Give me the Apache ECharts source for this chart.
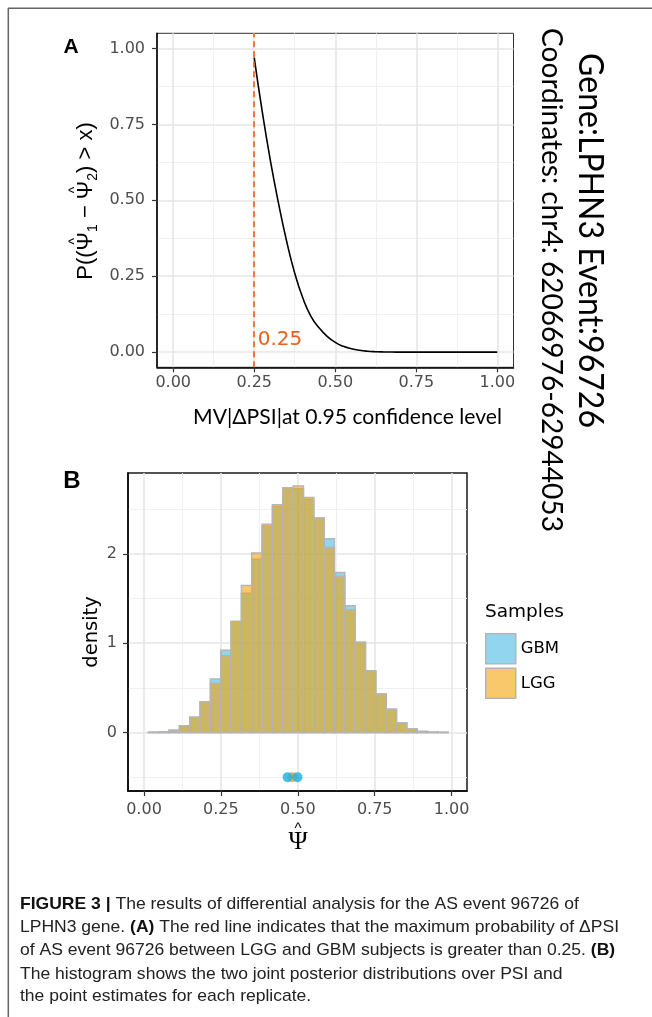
<!DOCTYPE html>
<html><head><meta charset="utf-8">
<script src="https://cdn.jsdelivr.net/npm/echarts@6/dist/echarts.min.js"></script>
<style>html,body{margin:0;padding:0;background:#fff;}#c{width:652px;height:1017px;}</style>
</head><body><div id="c"></div>
<script>
// ---------- Panel A data ----------
const mvX = [0.25,0.275,0.30,0.325,0.35,0.375,0.40,0.425,0.45,0.475,0.50,0.525,0.55,0.575,0.60,0.625,0.65,0.675,0.70,0.75,0.80,0.85,0.90,0.95,1.00];
const mvP = [0.97,0.79,0.63,0.49,0.365,0.26,0.178,0.118,0.080,0.052,0.032,0.019,0.011,0.006,0.003,0.0014,0.0006,0.0002,0.0001,0,0,0,0,0,0];
const threshold = 0.25;
const thresholdLabel = '0.25';
const probTicks = [0, 0.25, 0.5, 0.75, 1];
const probMinor = [0.125, 0.375, 0.625, 0.875];
// ---------- Panel B data ----------
const binStart = 0.0143;
const binWidth = 0.0336;
const gbmDensity = [0.003,0.008,0.025,0.075,0.17,0.34,0.60,0.92,1.24,1.56,1.94,2.31,2.53,2.74,2.73,2.61,2.40,2.17,1.79,1.42,1.01,0.69,0.43,0.26,0.105,0.04,0.012,0.004,0.002];
const lggDensity = [0.003,0.008,0.025,0.075,0.17,0.345,0.55,0.86,1.245,1.645,2.01,2.33,2.55,2.74,2.76,2.63,2.40,2.07,1.75,1.375,1.01,0.69,0.43,0.26,0.105,0.04,0.012,0.004,0.002];
const gbmPoints = [0.467, 0.499];
const lggPoints = [0.482];
const pointLevel = -0.5;
const psiTicks = [0, 0.25, 0.5, 0.75, 1];
const psiMinor = [0.125, 0.375, 0.625, 0.875];
const densityTicks = [0, 1, 2];
const densityMinor = [-0.5, 0.5, 1.5, 2.5];
const sampleNames = ['GBM', 'LGG'];
// ---------- texts ----------
const geneText = 'Gene:LPHN3 Event:96726';
const coordText = 'Coordinates: chr4: 62066976-62944053';
const xTitleA = 'MV|\u0394PSI|at 0.95 confidence level';
const yTitleParts = [['P((', 0, 0], ['\u03A8', 0, 1], ['1', 1, 0], [' \u2212 ', 0, 0], ['\u03A8', 0, 1], ['2', 1, 0], [') > x)', 0, 0]];
const captionLines = [
  [['FIGURE 3 |', 1], [' The results of differential analysis for the AS event 96726 of', 0]],
  [['LPHN3 gene. ', 0], ['(A)', 1], [' The red line indicates that the maximum probability of \u0394PSI', 0]],
  [['of AS event 96726 between LGG and GBM subjects is greater than 0.25. ', 0], ['(B)', 1]],
  [['The histogram shows the two joint posterior distributions over PSI and', 0]],
  [['the point estimates for each replicate.', 0]]
];

const mctx = document.createElement('canvas').getContext('2d');
function measure(t, font) { mctx.font = font; return mctx.measureText(t).width; }

const GBM_FILL = 'rgba(37,171,221,0.5)';
const LGG_FILL = 'rgba(245,160,0,0.58)';
const BAR_EDGE = '#b5b5b5';
const TICK_COL = '#4d4d4d';
const GRID_MAJOR = '#e6e6e6';
const GRID_MINOR = '#eeeeee';
const LAB_FONT = 'DejaVu Sans';

function mainAxis(opts) {
  return Object.assign({
    type: 'value',
    axisLine: { show: true, onZero: false, lineStyle: { color: '#000', width: 1.5 } },
    axisTick: { show: true, length: 5, customValues: opts.ticks, lineStyle: { color: '#333', width: 1.2 } },
    axisLabel: { customValues: opts.ticks, formatter: opts.fmt, color: TICK_COL, fontSize: 16, fontFamily: LAB_FONT, margin: opts.margin },
    splitLine: { show: true, lineStyle: { color: GRID_MAJOR, width: 1.6 } }
  }, opts.base);
}
function minorAxis(opts) {
  return Object.assign({
    type: 'value',
    axisLine: { show: false },
    axisTick: { show: false, customValues: opts.ticks },
    axisLabel: { show: false, customValues: opts.ticks },
    splitLine: { show: true, lineStyle: { color: GRID_MINOR, width: 0.9 } }
  }, opts.base);
}
const f2 = v => v.toFixed(2);
const f0 = v => String(Math.round(v));

const histData = (arr) => arr.map((d, i) => [binStart + i * binWidth, binStart + (i + 1) * binWidth, d]);
function histRender(fill) {
  return function (params, api) {
    const p0 = api.coord([api.value(0), api.value(2)]);
    const p1 = api.coord([api.value(1), 0]);
    return { type: 'rect', shape: { x: p0[0], y: p0[1], width: p1[0] - p0[0], height: p1[1] - p0[1] },
      style: { fill: fill, stroke: BAR_EDGE, lineWidth: 1.5 } };
  };
}

// caption rich text
const capFont = 'Liberation Sans';
const capSize = 17;
function lineWidth(segs) { return segs.reduce((s, [t, b]) => s + measure(t, (b ? 'bold ' : '') + capSize + 'px "' + capFont + '"'), 0); }
const capScale = 599 / lineWidth(captionLines[1]);
const capY = [904.3, 927.7, 950.7, 974, 996.7];
const captionGraphics = captionLines.map((segs, i) => ({
  type: 'text', x: 20, y: capY[i], scaleX: capScale,
  style: { text: segs.map(([t, b]) => '{' + (b ? 'b' : 'n') + '|' + t + '}').join(''),
    rich: { n: { fontFamily: capFont, fontSize: capSize, fill: '#222' }, b: { fontFamily: capFont, fontSize: capSize, fontWeight: 'bold', fill: '#111' } },
    verticalAlign: 'middle', align: 'left' }
}));

// y title of panel A, built piecewise so hats sit over the Psi glyphs
const yMain = 22, ySub = 14;
const yFont = 'Liberation Sans';
const yWidths = yTitleParts.map(([t, sub]) => measure(t, (sub ? ySub : yMain) + 'px "' + yFont + '"'));
const yTotal = yWidths.reduce((a, b) => a + b, 0);
let cur = -yTotal / 2;
const yTitleChildren = [];
yTitleParts.forEach(([t, sub, hat], i) => {
  yTitleChildren.push({ type: 'text', x: cur, y: sub ? 7 : 0,
    style: { text: t, fontFamily: yFont, fontSize: sub ? ySub : yMain, fill: '#000', align: 'left', verticalAlign: 'middle' } });
  if (hat) yTitleChildren.push({ type: 'text', x: cur + yWidths[i] / 2, y: -11,
    style: { text: '^', fontFamily: yFont, fontSize: 14, fill: '#000', align: 'center', verticalAlign: 'middle' } });
  cur += yWidths[i];
});

function fitSize(text, family, target) { return 30 * target / measure(text, '30px "' + family + '"'); }
const sideFont = 'Lato';
const geneSize = fitSize(geneText, sideFont, 375);
const coordSize = fitSize(coordText, sideFont, 504);
const xTitleSize = fitSize(xTitleA, sideFont, 309);

const chart = echarts.init(document.getElementById('c'), null, { renderer: 'canvas', width: 652, height: 1017 });
chart.setOption({
  animation: false,
  backgroundColor: '#fff',
  grid: [
    { left: 157, top: 33.3, width: 356.5, height: 334, show: true, borderColor: '#333', borderWidth: 1, backgroundColor: 'transparent' },
    { left: 128, top: 473, width: 339, height: 318, show: true, borderColor: '#1a1a1a', borderWidth: 1.5, backgroundColor: 'transparent' }
  ],
  xAxis: [
    mainAxis({ ticks: probTicks, fmt: f2, margin: 8, base: { gridIndex: 0, min: -0.05, max: 1.05, position: 'bottom' } }),
    minorAxis({ ticks: probMinor, base: { gridIndex: 0, min: -0.05, max: 1.05, position: 'bottom' } }),
    mainAxis({ ticks: psiTicks, fmt: f2, margin: 11, base: { gridIndex: 1, min: -0.052, max: 1.05, position: 'bottom' } }),
    minorAxis({ ticks: psiMinor, base: { gridIndex: 1, min: -0.052, max: 1.05, position: 'bottom' } })
  ],
  yAxis: [
    mainAxis({ ticks: probTicks, fmt: f2, margin: 12, base: { gridIndex: 0, min: -0.05, max: 1.05, position: 'left' } }),
    minorAxis({ ticks: probMinor, base: { gridIndex: 0, min: -0.05, max: 1.05, position: 'left' } }),
    mainAxis({ ticks: densityTicks, fmt: f0, margin: 11, base: { gridIndex: 1, min: -0.655, max: 2.905, position: 'left' } }),
    minorAxis({ ticks: densityMinor, base: { gridIndex: 1, min: -0.655, max: 2.905, position: 'left' } })
  ],
  legend: {
    orient: 'vertical', left: 480, top: 628, itemWidth: 30, itemHeight: 30, itemGap: 3,
    icon: 'rect', selectedMode: false,
    data: sampleNames,
    itemStyle: { borderColor: BAR_EDGE, borderWidth: 1.5 },
    textStyle: { fontFamily: LAB_FONT, fontSize: 16.5, color: '#000', padding: [4, 0, 0, 0] }
  },
  series: [
    {
      type: 'line', xAxisIndex: 0, yAxisIndex: 0, name: 'prob',
      data: mvX.map((x, i) => [x, mvP[i]]),
      showSymbol: false, smooth: 0.5,
      lineStyle: { color: '#000', width: 1.6 },
      markLine: { silent: true, symbol: ['none', 'none'], label: { show: false },
        lineStyle: { color: '#E8601C', type: [6, 4], width: 1.6 }, data: [{ xAxis: threshold }] },
      markPoint: { silent: true, symbol: 'circle', symbolSize: 1, itemStyle: { color: 'rgba(0,0,0,0)' },
        data: [{ coord: [threshold, 0.042], label: { show: true, position: 'right', distance: 3, formatter: thresholdLabel, color: '#E8601C', fontSize: 20, fontFamily: LAB_FONT } }] }
    },
    { type: 'custom', name: 'GBM', xAxisIndex: 2, yAxisIndex: 2, data: histData(gbmDensity), encode: { x: [0, 1], y: 2 },
      renderItem: histRender(GBM_FILL), itemStyle: { color: GBM_FILL, borderColor: BAR_EDGE, borderWidth: 1.5 }, clip: true, z: 2 },
    { type: 'custom', name: 'LGG', xAxisIndex: 2, yAxisIndex: 2, data: histData(lggDensity), encode: { x: [0, 1], y: 2 },
      renderItem: histRender(LGG_FILL), itemStyle: { color: LGG_FILL, borderColor: BAR_EDGE, borderWidth: 1.5 }, clip: true, z: 3 },
    { type: 'scatter', name: 'LGG pts', xAxisIndex: 2, yAxisIndex: 2, symbolSize: 10, data: lggPoints.map(x => [x, pointLevel]),
      itemStyle: { color: '#F7A01E' }, z: 4 },
    { type: 'scatter', name: 'GBM pts', xAxisIndex: 2, yAxisIndex: 2, symbolSize: 10, data: gbmPoints.map(x => [x, pointLevel]),
      itemStyle: { color: '#1BAEE2' }, z: 5 }
  ],
  graphic: [
    { type: 'line', shape: { x1: 8, y1: 8.3, x2: 652, y2: 8.3 }, style: { stroke: '#666', lineWidth: 1.5 } },
    { type: 'line', shape: { x1: 8.3, y1: 8, x2: 8.3, y2: 1017 }, style: { stroke: '#666', lineWidth: 1.5 } },
    { type: 'text', x: 71, y: 47, style: { text: 'A', fontFamily: 'Liberation Sans', fontWeight: 'bold', fontSize: 21, fill: '#000', align: 'center', verticalAlign: 'middle' } },
    { type: 'text', x: 72, y: 481, style: { text: 'B', fontFamily: 'Liberation Sans', fontWeight: 'bold', fontSize: 24, fill: '#000', align: 'center', verticalAlign: 'middle' } },
    { type: 'group', x: 86, y: 201, rotation: Math.PI / 2, children: yTitleChildren },
    { type: 'text', x: 347.5, y: 417.5, style: { text: xTitleA, fontFamily: sideFont, fontSize: xTitleSize, fill: '#000', align: 'center', verticalAlign: 'middle' } },
    { type: 'text', x: 590, y: 240.5, rotation: -Math.PI / 2, scaleY: 1.1, style: { text: geneText, fontFamily: sideFont, fontSize: geneSize, fill: '#000', align: 'center', verticalAlign: 'middle' } },
    { type: 'text', x: 551.5, y: 280, rotation: -Math.PI / 2, style: { text: coordText, fontFamily: sideFont, fontSize: coordSize, fill: '#000', align: 'center', verticalAlign: 'middle' } },
    { type: 'text', x: 92, y: 632, rotation: Math.PI / 2, style: { text: 'density', fontFamily: LAB_FONT, fontSize: 19.5, fill: '#000', align: 'center', verticalAlign: 'middle' } },
    { type: 'text', x: 298, y: 842, style: { text: '\u03A8', fontFamily: 'Liberation Serif', fontSize: 26, fill: '#000', align: 'center', verticalAlign: 'middle' } },
    { type: 'text', x: 298, y: 829, style: { text: '^', fontFamily: 'Liberation Sans', fontSize: 15, fill: '#000', align: 'center', verticalAlign: 'middle' } },
    { type: 'text', x: 485, y: 612, style: { text: 'Samples', fontFamily: LAB_FONT, fontSize: 18.5, fill: '#000', align: 'left', verticalAlign: 'middle' } }
  ].concat(captionGraphics)
});
</script></body></html>
